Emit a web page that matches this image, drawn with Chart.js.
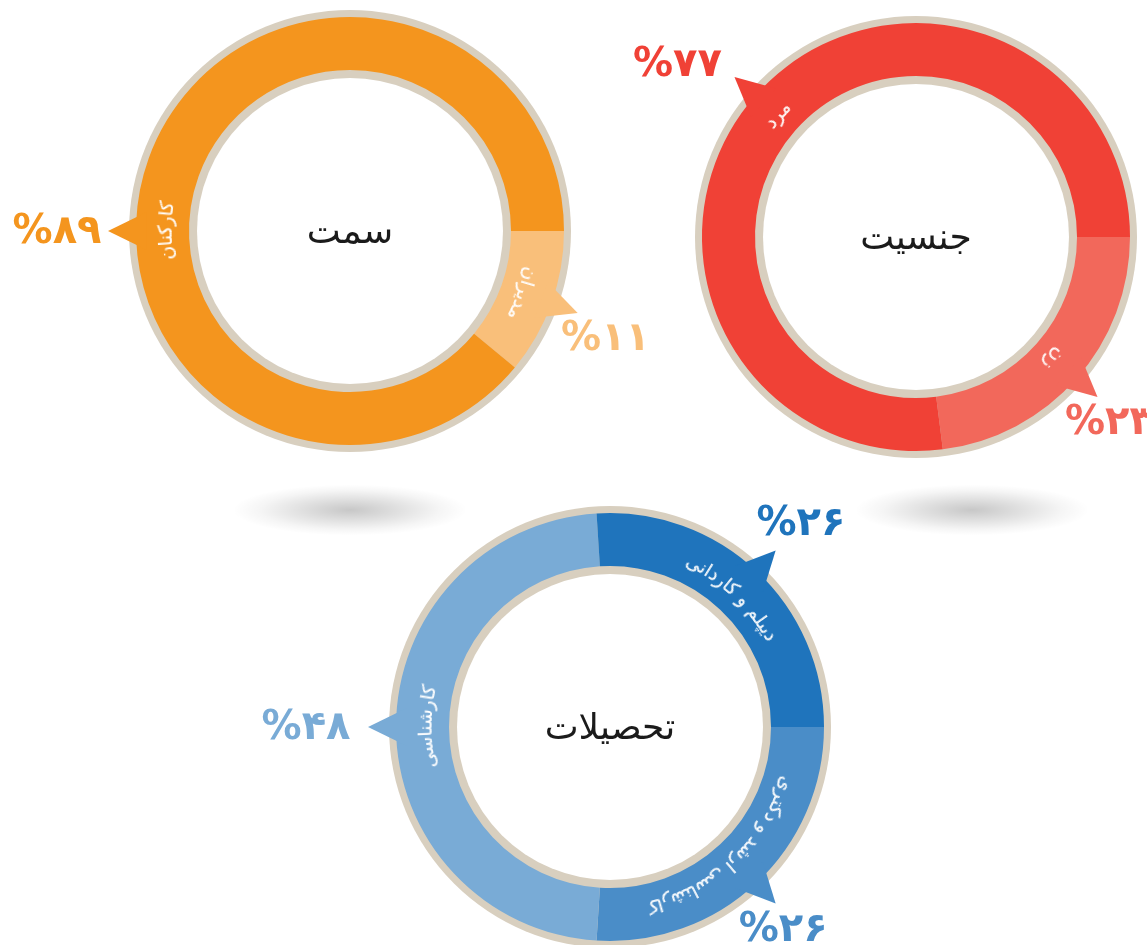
<!DOCTYPE html>
<html><head><meta charset="utf-8">
<script src="https://cdn.jsdelivr.net/npm/chart.js@4.4.0/dist/chart.umd.min.js"></script>
<style>
html,body{margin:0;padding:0;background:#fff;width:1147px;height:945px;overflow:hidden;position:relative}
.box{position:absolute;width:700px;height:700px}
.shadow{position:absolute;width:230px;height:50px;background:radial-gradient(ellipse at center, rgba(0,0,0,0.22) 0%, rgba(0,0,0,0.12) 30%, rgba(0,0,0,0.04) 55%, rgba(0,0,0,0) 72%)}
</style></head><body>
<div class="shadow" style="left:235px;top:485px"></div>
<div class="shadow" style="left:857px;top:485px"></div>
<div class="box" id="b1"><canvas id="c1" width="700" height="700"></canvas></div>
<div class="box" id="b2"><canvas id="c2" width="700" height="700"></canvas></div>
<div class="box" id="b3"><canvas id="c3" width="700" height="700"></canvas></div>
<script>
// ---- data ----
const roleTitle = 'سمت';
const roleLabels = ['مدیران', 'کارکنان'];
const roleValues = [11, 89];
const roleColors = ['#F9BF7A', '#F4951E'];

const genderTitle = 'جنسیت';
const genderLabels = ['زن', 'مرد'];
const genderValues = [23, 77];
const genderColors = ['#F2685B', '#F04136'];

const eduTitle = 'تحصیلات';
const eduLabels = ['کارشناسی ارشد و دکتری', 'کارشناسی', 'دیپلم و کاردانی'];
const eduValues = [26, 48, 26];
const eduColors = ['#4A8DC8', '#79ABD6', '#1F74BC'];

// ---- style / layout ----
const BEIGE = '#D8CFBF';
const OUTER_R = 214, INNER_R = 161;
const FONT = '"DejaVu Sans", "Noto Sans", sans-serif';
// percent-label placement (polar: degrees, px from centre) per chart
const rolePct = [[22.7, 277], [180, 293]];
const genderPct = [[43.6, 267], [216, 295]];
const eduPct = [[49.4, 266], [180, 304], [-47, 280]];

function toFa(n){ return String(n).replace(/\d/g, d => '۰۱۲۳۴۵۶۷۸۹'[d]); }

function curvedText(ctx, text, cx, cy, r, theta, font, color){
  const off = document.createElement('canvas');
  const o = off.getContext('2d');
  o.font = font;
  const w = Math.ceil(o.measureText(text).width) + 6;
  const H = 44;
  off.width = w; off.height = H;
  o.font = font; o.fillStyle = color; o.textAlign = 'center'; o.textBaseline = 'middle'; o.direction = 'rtl';
  o.fillText(text, w/2, H/2);
  for (let sx = 0; sx < w; sx++){
    const a = theta + (sx + 0.5 - w/2) / r;
    ctx.save();
    ctx.translate(cx + r*Math.cos(a), cy + r*Math.sin(a));
    ctx.rotate(a + Math.PI/2);
    ctx.drawImage(off, sx, 0, 1, H, -0.5, -H/2, 1.3, H);
    ctx.restore();
  }
}

function decoPlugin(title, labels, values, colors, angleOverride, pctPos){
  return {
    id: 'deco',
    beforeDatasetsDraw(chart){
      const ctx = chart.ctx;
      const arc = chart.getDatasetMeta(0).data[0];
      ctx.save();
      ctx.fillStyle = BEIGE;
      ctx.beginPath(); ctx.arc(arc.x, arc.y, arc.outerRadius + 7, 0, Math.PI*2); ctx.fill();
      ctx.fillStyle = '#fff';
      ctx.beginPath(); ctx.arc(arc.x, arc.y, arc.innerRadius - 8, 0, Math.PI*2); ctx.fill();
      ctx.restore();
    },
    afterDatasetsDraw(chart){
      const ctx = chart.ctx;
      const meta = chart.getDatasetMeta(0);
      meta.data.forEach((arc, i) => {
        const cx = arc.x, cy = arc.y;
        let a = (arc.startAngle + arc.endAngle) / 2;
        if (angleOverride && angleOverride[i] != null) a = angleOverride[i] * Math.PI / 180;
        const dx = Math.cos(a), dy = Math.sin(a);
        // arrow
        const rb = arc.outerRadius - 10, rt = arc.outerRadius + 28, del = 19 / rb;
        ctx.save();
        ctx.fillStyle = colors[i];
        ctx.beginPath();
        ctx.moveTo(cx + rb*Math.cos(a-del), cy + rb*Math.sin(a-del));
        ctx.lineTo(cx + rt*dx, cy + rt*dy);
        ctx.lineTo(cx + rb*Math.cos(a+del), cy + rb*Math.sin(a+del));
        ctx.closePath(); ctx.fill();
        ctx.restore();
        // segment label along arc
        const rm = (arc.innerRadius + arc.outerRadius) / 2 - 4;
        curvedText(ctx, labels[i], cx, cy, rm, a, '19px ' + FONT, '#ffffff');
        // percent label
        const txt = '%' + toFa(values[i]);
        const pa = pctPos[i][0] * Math.PI / 180, pr = pctPos[i][1];
        ctx.save();
        ctx.font = 'bold 40px ' + FONT;
        ctx.direction = 'ltr';
        ctx.fillStyle = colors[i];
        ctx.textAlign = 'center'; ctx.textBaseline = 'middle';
        ctx.fillText(txt, cx + pr*Math.cos(pa), cy + pr*Math.sin(pa) + 2);
        ctx.restore();
      });
      // title
      const arc0 = meta.data[0];
      ctx.save();
      ctx.font = '36px ' + FONT;
      ctx.fillStyle = '#1b1b1b';
      ctx.textAlign = 'center'; ctx.textBaseline = 'middle'; ctx.direction = 'rtl';
      ctx.fillText(title, arc0.x, arc0.y + 3);
      ctx.restore();
    }
  };
}

function makeChart(id, boxId, cx, cy, title, labels, values, colors, angleOverride, pctPos){
  const box = document.getElementById(boxId);
  box.style.left = (cx - 350) + 'px';
  box.style.top = (cy - 350) + 'px';
  new Chart(document.getElementById(id), {
    type: 'doughnut',
    data: { labels: labels, datasets: [{ data: values, backgroundColor: colors, borderWidth: 0, hoverOffset: 0, offset: 0 }] },
    options: {
      responsive: false, animation: false,
      rotation: 90,
      radius: OUTER_R,
      cutout: (INNER_R / OUTER_R * 100) + '%',
      layout: { padding: 350 - OUTER_R },
      events: [],
      plugins: { legend: { display: false }, tooltip: { enabled: false } }
    },
    plugins: [decoPlugin(title, labels, values, colors, angleOverride, pctPos)]
  });
}

makeChart('c1', 'b1', 350, 231, roleTitle, roleLabels, roleValues, roleColors, [null, 180], rolePct);
makeChart('c2', 'b2', 916, 237, genderTitle, genderLabels, genderValues, genderColors, null, genderPct);
makeChart('c3', 'b3', 610, 727, eduTitle, eduLabels, eduValues, eduColors, null, eduPct);
</script>
</body></html>
